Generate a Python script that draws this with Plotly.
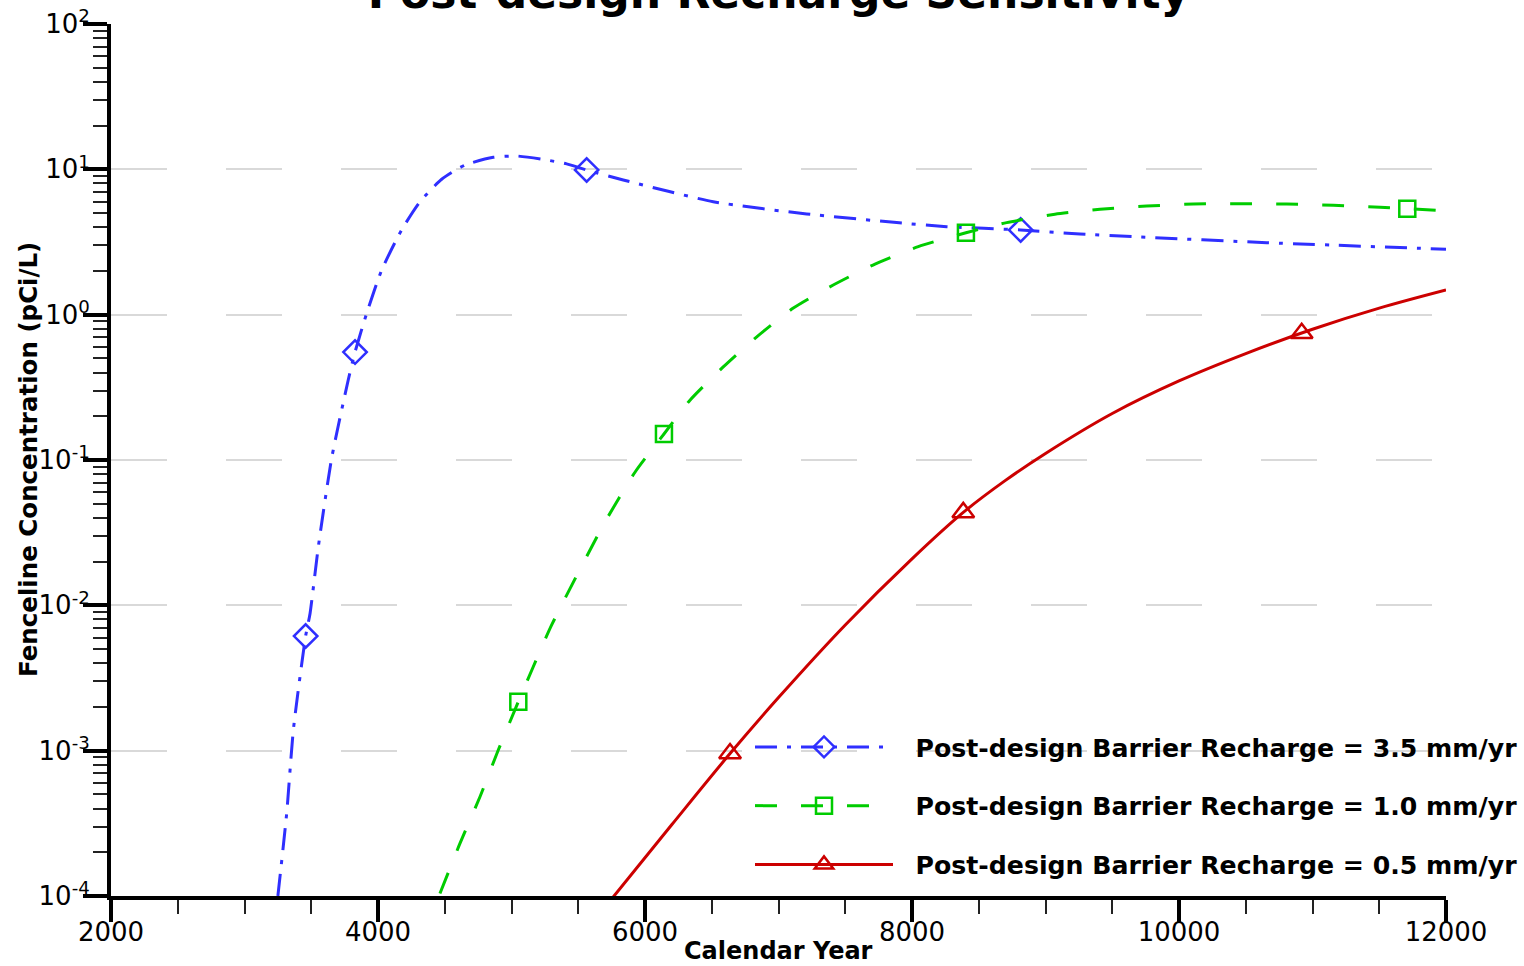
import plotly.graph_objects as go

# ---------------- data ----------------
title_text = "Post-design Recharge Sensitivity"
x_title = "Calendar Year"
y_title = "Fenceline Concentration (pCi/L)"

series_names = [
    "Post-design Barrier Recharge = 3.5 mm/yr",
    "Post-design Barrier Recharge = 1.0 mm/yr",
    "Post-design Barrier Recharge = 0.5 mm/yr",
]

# 3.5 mm/yr (blue, dash-dot, diamonds)
years_35 = [3250, 3316, 3366, 3458, 3491, 3553, 3653, 3777, 3828, 3915, 4028, 4177,
            4315, 4477, 4652, 4864, 5039, 5238, 5413, 5563, 5837, 6511, 7211, 7885,
            8260, 8814, 9258, 9658, 10657, 12000]
conc_35 = [1.0e-4, 3.71e-4, 1.39e-3, 6.15e-3, 8.8e-3, 0.0253, 0.103, 0.355, 0.553, 1.02,
           2.03, 3.83, 5.99, 8.54, 10.7, 12.1, 12.35, 11.7, 10.9, 9.9, 8.45, 5.99, 4.93,
           4.30, 4.03, 3.83, 3.59, 3.44, 3.13, 2.82]
mk_years_35 = [3458, 3828, 5563, 8814]
mk_conc_35 = [6.15e-3, 0.553, 9.9, 3.83]

# 1.0 mm/yr (green, dashed, squares)
years_10 = [4464, 4614, 4764, 4901, 5051, 5163, 5301, 5700, 5925, 6142, 6337, 6586, 6824,
            7111, 7410, 7723, 8047, 8404, 8709, 9071, 9408, 9758, 10107, 10457, 10807,
            11156, 11506, 11710, 12000]
conc_10 = [1.04e-4, 2.30e-4, 4.82e-4, 1.01e-3, 2.17e-3, 3.78e-3, 7.33e-3, 0.0374, 0.0824,
           0.151, 0.258, 0.437, 0.687, 1.11, 1.60, 2.23, 2.94, 3.66, 4.30, 4.91, 5.31,
           5.59, 5.77, 5.80, 5.77, 5.66, 5.48, 5.36, 5.17]
mk_years_10 = [5051, 6142, 8404, 11710]
mk_conc_10 = [2.17e-3, 0.151, 3.66, 5.36]

# 0.5 mm/yr (red, solid, triangles)
years_05 = [5740, 6200, 6637, 7000, 7500, 8000, 8384, 8700, 9000, 9500, 10000, 10500,
            11000, 11500, 12000]
conc_05 = [9.3e-5, 3.09e-4, 9.55e-4, 2.32e-3, 7.33e-3, 0.0209, 0.0436, 0.0724, 0.111,
           0.209, 0.350, 0.540, 0.794, 1.109, 1.479]
mk_years_05 = [6637, 8384, 10919]
mk_conc_05 = [9.55e-4, 0.0436, 0.745]

y_tick_vals = [1e-4, 1e-3, 1e-2, 1e-1, 1e0, 1e1, 1e2]
y_tick_text = ["10<sup>-4</sup>", "10<sup>-3</sup>", "10<sup>-2</sup>", "10<sup>-1</sup>",
               "10<sup>0</sup>", "10<sup>1</sup>", "10<sup>2</sup>"]

# ---------------- styles ----------------
FONT = "DejaVu Sans"
BLUE = "#2f2fff"
GREEN = "#00cc00"
RED = "#cc0000"

styles = [
    dict(x=years_35, y=conc_35, mx=mk_years_35, my=mk_conc_35, color=BLUE,
         dash="22px,10px,4px,10px", symbol="diamond-open", size=18, smooth=0.6),
    dict(x=years_10, y=conc_10, mx=mk_years_10, my=mk_conc_10, color=GREEN,
         dash="22px,24px", symbol="square-open", size=16, smooth=0.6),
    dict(x=years_05, y=conc_05, mx=mk_years_05, my=mk_conc_05, color=RED,
         dash="solid", symbol="triangle-up-open", size=19, smooth=1.0),
]

fig = go.Figure()
for i, (name, s) in enumerate(zip(series_names, styles)):
    fig.add_trace(go.Scatter(
        x=s["x"], y=s["y"], mode="lines", showlegend=False,
        line=dict(color=s["color"], width=3, dash=s["dash"], shape="spline",
                  smoothing=s["smooth"]),
        hoverinfo="skip"))
    fig.add_trace(go.Scatter(
        x=s["mx"], y=s["my"], mode="markers", showlegend=False,
        marker=dict(symbol=s["symbol"], size=s["size"], color=s["color"],
                    line=dict(width=2.5, color=s["color"]))))
    fig.add_trace(go.Scatter(
        x=[None], y=[None], mode="lines+markers", name="\u00a0\u00a0" + name,
        legendgroup=f"g{i}",
        line=dict(color=s["color"], width=3, dash=s["dash"]),
        marker=dict(symbol=s["symbol"], size=s["size"], color=s["color"],
                    line=dict(width=2.5, color=s["color"]))))

y_minor = [m * 10 ** e for e in range(-4, 2) for m in range(2, 10)]

fig.update_layout(
    width=1524, height=966,
    margin=dict(l=111, r=78, t=24, b=70, autoexpand=False),
    paper_bgcolor="white", plot_bgcolor="white",
    font=dict(family=FONT, color="black", size=26),
    title=dict(text="<b>" + title_text + "</b>", x=0.5, xref="paper", xanchor="center",
               y=1 - 8 / 966, yref="container", yanchor="bottom",
               font=dict(family=FONT, size=44, color="black")),
    xaxis=dict(
        range=[2000, 12000], tick0=2000, dtick=2000, tickformat="d",
        showgrid=False, zeroline=False,
        showline=True, linewidth=4, linecolor="black",
        ticks="outside", ticklen=22, tickwidth=4, tickcolor="black",
        tickfont=dict(family=FONT, size=26, color="black"),
        ticklabelstandoff=-12,
        minor=dict(ticks="outside", ticklen=14, tickwidth=2, tickcolor="#222", dtick=500,
                   tick0=2000, showgrid=False),
    ),
    yaxis=dict(
        type="log", range=[-4, 2], tickmode="array", tickvals=y_tick_vals,
        ticktext=y_tick_text, showgrid=True, gridcolor="#d9d9d9", gridwidth=1.5,
        griddash="56px,59px", zeroline=False,
        showline=True, linewidth=4, linecolor="black",
        ticks="outside", ticklen=24, tickwidth=4, tickcolor="black",
        tickfont=dict(family=FONT, size=26, color="black"),
        ticklabelstandoff=-12,
        minor=dict(ticks="outside", ticklen=14, tickwidth=1.5, tickcolor="#222",
                   tickmode="array", tickvals=y_minor, showgrid=False),
    ),
    legend=dict(
        x=(750 - 111) / 1335, xanchor="left", y=(896 - 724) / 872, yanchor="top",
        bgcolor="rgba(0,0,0,0)", borderwidth=0, itemwidth=138,
        traceorder="grouped", tracegroupgap=23,
        font=dict(family=FONT, size=25.2, color="black", weight="bold"),
    ),
    annotations=[
        dict(text="<b>" + y_title + "</b>", xref="paper", yref="paper",
             x=(28 - 111) / 1335, y=0.5, xanchor="center", yanchor="middle",
             textangle=-90, showarrow=False, font=dict(family=FONT, size=24.5, color="black")),
        dict(text="<b>" + x_title + "</b>", xref="paper", yref="paper",
             x=0.5, y=(896 - 951) / 872, xanchor="center", yanchor="middle",
             showarrow=False, font=dict(family=FONT, size=24, color="black")),
    ],
)

fig.write_html("out.html", config={"displayModeBar": False},
               post_script="document.body.style.margin='0px';")
